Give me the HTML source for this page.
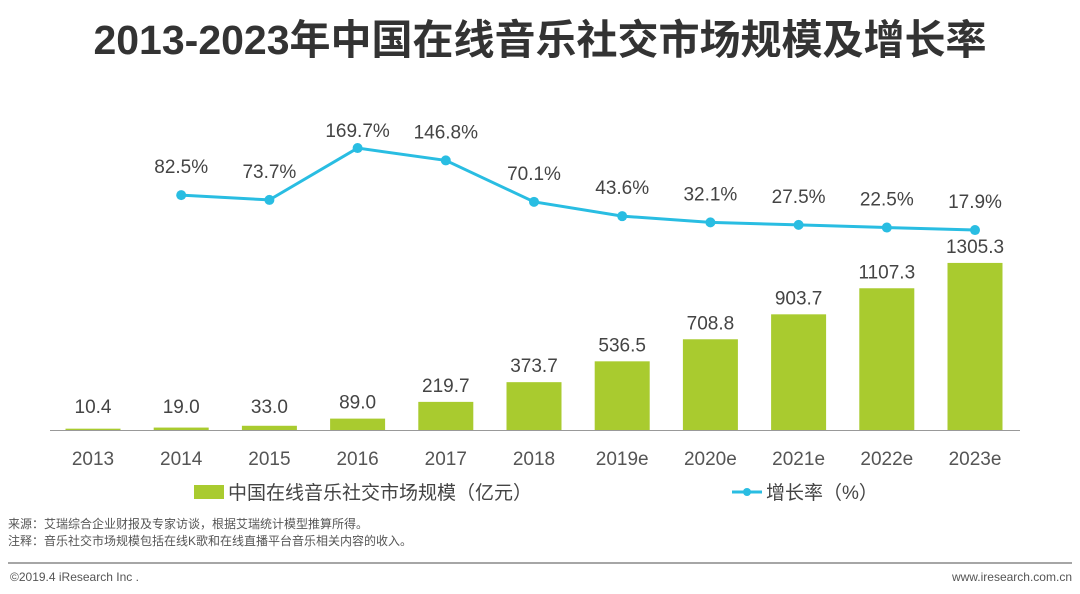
<!DOCTYPE html>
<html><head><meta charset="utf-8"><style>
body{margin:0;background:#fff;width:1080px;height:589px;overflow:hidden;font-family:"Liberation Sans","Noto Sans CJK SC",sans-serif;}
</style></head><body>
<svg width="1080" height="589" xmlns="http://www.w3.org/2000/svg">
<text x="540" y="54" text-anchor="middle" font-size="41" font-weight="bold" fill="#333">2013-2023年中国在线音乐社交市场规模及增长率</text>
<g id="bars"></g><g id="line"></g>
<line x1="50" y1="430.5" x2="1020" y2="430.5" stroke="#999" stroke-width="1"/>
<g>
<rect x="194" y="485" width="30" height="14" fill="#a9cb2f"/>
<text x="228" y="499" font-size="19" fill="#444">中国在线音乐社交市场规模（亿元）</text>
<line x1="732" y1="492" x2="762" y2="492" stroke="#29bde2" stroke-width="3"/>
<circle cx="747" cy="492" r="4" fill="#29bde2"/>
<text x="766" y="499" font-size="19" fill="#444">增长率（%）</text>
</g>
<text x="8" y="528" font-size="12" fill="#555">来源：艾瑞综合企业财报及专家访谈，根据艾瑞统计模型推算所得。</text>
<text x="8" y="545" font-size="12" fill="#555">注释：音乐社交市场规模包括在线K歌和在线直播平台音乐相关内容的收入。</text>
<line x1="8" y1="563" x2="1072" y2="563" stroke="#888" stroke-width="1.5"/>
<text x="10" y="581" font-size="12" fill="#555">©2019.4 iResearch Inc .</text>
<text x="1072" y="581" font-size="12" fill="#555" text-anchor="end">www.iresearch.com.cn</text>
</svg>
<script>
const categories=["2013","2014","2015","2016","2017","2018","2019e","2020e","2021e","2022e","2023e"];
const marketSize=[10.4,19.0,33.0,89.0,219.7,373.7,536.5,708.8,903.7,1107.3,1305.3];
const growthRate=[null,82.5,73.7,169.7,146.8,70.1,43.6,32.1,27.5,22.5,17.9];
const NS="http://www.w3.org/2000/svg";
const xPos=i=>93+i*88.2;
const yBar=v=>430-v*0.128;
const yLine=v=>239.7-v*0.54;
const bars=document.getElementById('bars'),line=document.getElementById('line');
function mk(t,a,p){const e=document.createElementNS(NS,t);for(const k in a)e.setAttribute(k,a[k]);p.appendChild(e);return e;}
categories.forEach((c,i)=>{
  const v=marketSize[i],x=xPos(i),y=yBar(v);
  const r=mk('rect',{x:x-27.5,y:y,width:55,height:430-y,fill:'#a9cb2f'},bars);
  
  
  const t=mk('text',{x:x,y:Math.min(y-10,413),'text-anchor':'middle','font-size':19,fill:'#444'},bars);
  t.textContent=v.toFixed(1);
  
  
  const xl=mk('text',{x:x,y:465,'text-anchor':'middle','font-size':19,fill:'#555'},bars);
  xl.textContent=c;
  
  
});
let pts=[];
growthRate.forEach((v,i)=>{if(v!==null)pts.push([xPos(i),yLine(v),v,categories[i]]);});
const pl=mk('polyline',{points:pts.map(p=>p[0]+','+p[1]).join(' '),fill:'none',stroke:'#29bde2','stroke-width':3},line);


pts.forEach(p=>{
  const c=mk('circle',{cx:p[0],cy:p[1],r:5,fill:'#29bde2'},line);
  
  
  const t=mk('text',{x:p[0],y:Math.max(p[1]-22,137),'text-anchor':'middle','font-size':19,fill:'#444'},line);
  t.textContent=p[2].toFixed(1)+'%';
  
  
});
</script>
</body></html>
